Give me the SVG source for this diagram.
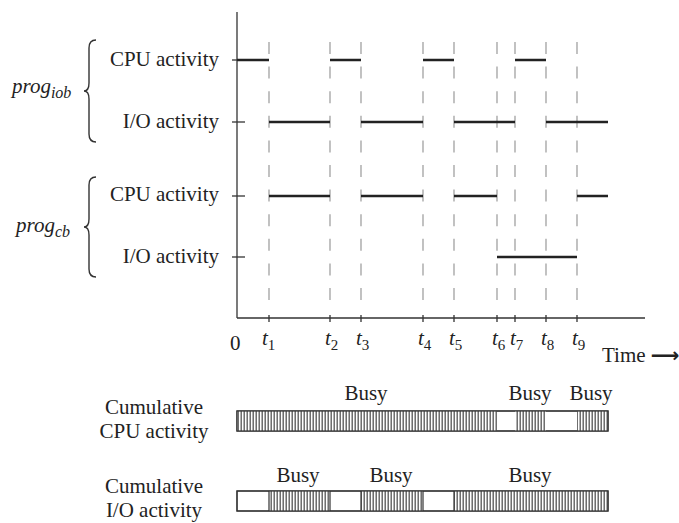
<svg xmlns="http://www.w3.org/2000/svg" width="679" height="523" viewBox="0 0 679 523">
  <style>
    .lbl { font-family: "Liberation Serif", "Times New Roman", serif; font-size: 21px; fill: #222; }
    .it { font-style: italic; }
    .sub { font-size: 15px; }
    .psub { font-size: 16px; }
    .axis { stroke: #333; stroke-width: 1.3; fill: none; }
    .grid { stroke: #999; stroke-width: 1.2; stroke-dasharray: 12 12.6; fill: none; }
    .act { stroke: #222; stroke-width: 2.6; fill: none; }
    .brace { stroke: #333; stroke-width: 1.4; fill: none; }
    .bar { stroke: #333; stroke-width: 1.2; }
  </style>
  <defs>
    <pattern id="hatch" patternUnits="userSpaceOnUse" width="3" height="20">
      <rect width="3" height="20" fill="#fff"/>
      <line x1="1.2" y1="0" x2="1.2" y2="20" stroke="#555" stroke-width="1.3"/>
    </pattern>
  </defs>
  <rect width="679" height="523" fill="#fff"/>

  <!-- time instants: dashed guides -->
  <g id="guides">
    <line class="grid" x1="269" y1="42" x2="269" y2="302"/>
    <line class="grid" x1="330" y1="42" x2="330" y2="302"/>
    <line class="grid" x1="361" y1="42" x2="361" y2="302"/>
    <line class="grid" x1="423" y1="42" x2="423" y2="302"/>
    <line class="grid" x1="454" y1="42" x2="454" y2="302"/>
    <line class="grid" x1="497" y1="42" x2="497" y2="302"/>
    <line class="grid" x1="515" y1="42" x2="515" y2="302"/>
    <line class="grid" x1="546" y1="42" x2="546" y2="302"/>
    <line class="grid" x1="577" y1="42" x2="577" y2="302"/>
  </g>

  <!-- axes and ticks -->
  <g id="axes">
    <line class="axis" x1="237" y1="12" x2="237" y2="318"/>
    <line class="axis" x1="237" y1="318" x2="645" y2="318"/>
    <line class="axis" x1="232" y1="60" x2="237" y2="60"/>
    <line class="axis" x1="232" y1="122" x2="245" y2="122"/>
    <line class="axis" x1="232" y1="196" x2="245" y2="196"/>
    <line class="axis" x1="232" y1="257" x2="245" y2="257"/>
    <path class="axis" d="M269,315V322M330,315V322M361,315V322M423,315V322M454,315V322M497,315V322M515,315V322M546,315V322M577,315V322"/>
  </g>

  <!-- activity intervals -->
  <g id="connectors">
    <path class="act" d="M237,60H269M330,60H361M423,60H454M515,60H546"/>
    <path class="act" d="M269,122H330M361,122H423M454,122H515M546,122H608"/>
    <path class="act" d="M269,196H330M361,196H423M454,196H497M577,196H608"/>
    <path class="act" d="M497,257H577"/>
  </g>

  <!-- row labels -->
  <g id="row-labels" class="lbl" text-anchor="end">
    <text x="219" y="66">CPU activity</text>
    <text x="219" y="128">I/O activity</text>
    <text x="219" y="201">CPU activity</text>
    <text x="219" y="263">I/O activity</text>
  </g>

  <!-- program groups -->
  <g id="prog-iob">
    <path class="brace" d="M96,40 Q89,40 89,48 L89,83 Q89,91 84,91 Q89,91 89,99 L89,134 Q89,142 96,142"/>
    <text class="lbl it" x="12" y="93">prog<tspan class="psub" dy="5">iob</tspan></text>
  </g>
  <g id="prog-cb">
    <path class="brace" d="M96,177 Q89,177 89,185 L89,219 Q89,227 84,227 Q89,227 89,235 L89,269 Q89,277 96,277"/>
    <text class="lbl it" x="16" y="232">prog<tspan class="psub" dy="5">cb</tspan></text>
  </g>

  <!-- time axis labels -->
  <g id="time-labels" class="lbl">
    <text x="230" y="350">0</text>
    <text class="it" x="262" y="345">t<tspan class="sub" dy="5" font-style="normal">1</tspan></text>
    <text class="it" x="325" y="345">t<tspan class="sub" dy="5" font-style="normal">2</tspan></text>
    <text class="it" x="356" y="345">t<tspan class="sub" dy="5" font-style="normal">3</tspan></text>
    <text class="it" x="418" y="345">t<tspan class="sub" dy="5" font-style="normal">4</tspan></text>
    <text class="it" x="449" y="345">t<tspan class="sub" dy="5" font-style="normal">5</tspan></text>
    <text class="it" x="492" y="345">t<tspan class="sub" dy="5" font-style="normal">6</tspan></text>
    <text class="it" x="510" y="345">t<tspan class="sub" dy="5" font-style="normal">7</tspan></text>
    <text class="it" x="541" y="345">t<tspan class="sub" dy="5" font-style="normal">8</tspan></text>
    <text class="it" x="572" y="345">t<tspan class="sub" dy="5" font-style="normal">9</tspan></text>
    <text x="602" y="362">Time <tspan font-family="'DejaVu Sans', sans-serif" font-size="20" font-weight="bold">⟶</tspan></text>
  </g>

  <!-- cumulative CPU activity -->
  <g id="cpu-cumulative">
    <text class="lbl" x="154" y="414" text-anchor="middle">Cumulative</text>
    <text class="lbl" x="154" y="438" text-anchor="middle">CPU activity</text>
    <rect class="bar" x="237" y="411" width="371" height="20" fill="#fff"/>
    <rect x="237" y="411" width="260" height="20" fill="url(#hatch)"/>
    <rect x="515" y="411" width="31" height="20" fill="url(#hatch)"/>
    <rect x="577" y="411" width="31" height="20" fill="url(#hatch)"/>
    <rect class="bar" x="237" y="411" width="371" height="20" fill="none"/>
    <text class="lbl" x="366" y="400" text-anchor="middle">Busy</text>
    <text class="lbl" x="530" y="400" text-anchor="middle">Busy</text>
    <text class="lbl" x="591" y="400" text-anchor="middle">Busy</text>
  </g>

  <!-- cumulative I/O activity -->
  <g id="io-cumulative">
    <text class="lbl" x="154" y="493" text-anchor="middle">Cumulative</text>
    <text class="lbl" x="154" y="517" text-anchor="middle">I/O activity</text>
    <rect class="bar" x="237" y="491" width="371" height="20" fill="#fff"/>
    <rect x="269" y="491" width="61" height="20" fill="url(#hatch)"/>
    <rect x="361" y="491" width="62" height="20" fill="url(#hatch)"/>
    <rect x="454" y="491" width="154" height="20" fill="url(#hatch)"/>
    <path class="bar" d="M269,491V511M330,491V511M361,491V511M423,491V511M454,491V511" fill="none"/>
    <rect class="bar" x="237" y="491" width="371" height="20" fill="none"/>
    <text class="lbl" x="298" y="482" text-anchor="middle">Busy</text>
    <text class="lbl" x="391" y="482" text-anchor="middle">Busy</text>
    <text class="lbl" x="530" y="482" text-anchor="middle">Busy</text>
  </g>
</svg>
